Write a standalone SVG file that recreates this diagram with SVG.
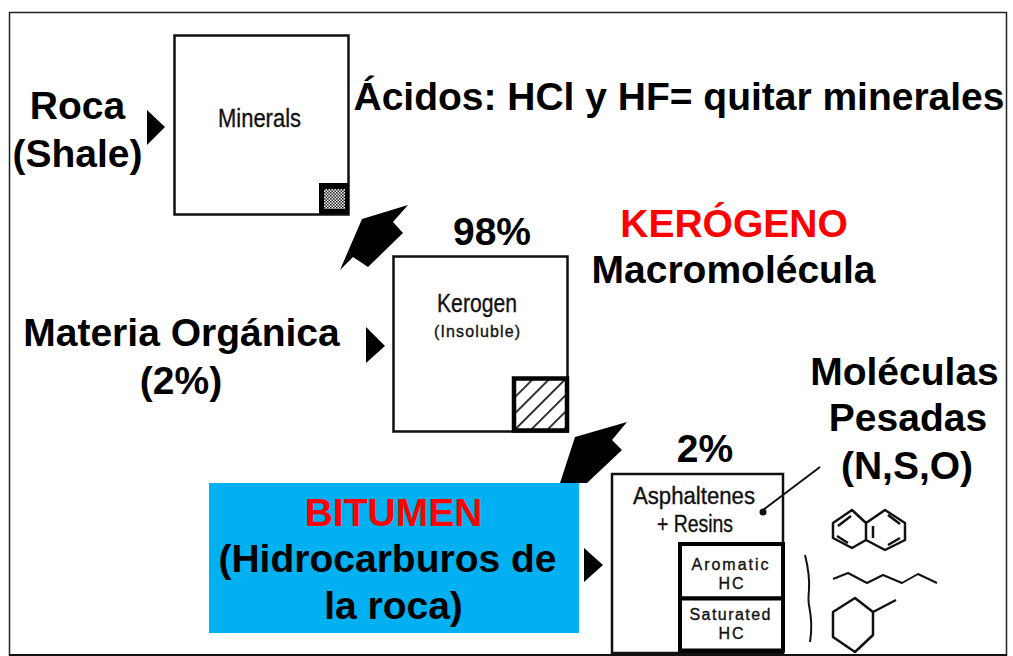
<svg xmlns="http://www.w3.org/2000/svg" width="1013" height="656" viewBox="0 0 1013 656">
<defs>
<style>
.b{font-family:"Liberation Sans",Arial,sans-serif;font-weight:700;font-size:39px;fill:#000;text-anchor:middle}
.r{fill:#f00}
.s{font-family:"Liberation Sans",Arial,sans-serif;fill:#111;stroke:#111;stroke-width:.35;text-anchor:middle}
.box{fill:#fff;stroke:#111;stroke-width:2.500}
.thick{fill:#fff;stroke:#000;stroke-width:4}
.line{fill:none;stroke:#111;stroke-width:2;stroke-linejoin:round}
</style>
<pattern id="dots" width="3" height="3" patternUnits="userSpaceOnUse"><rect width="3" height="3" fill="#fff"/><rect width="1.600" height="1.600" fill="#222"/><rect x="1.500" y="1.500" width="1.500" height="1.500" fill="#222"/></pattern>
<pattern id="hatch" width="11.500" height="11.500" patternUnits="userSpaceOnUse" patternTransform="rotate(45)"><rect width="11.500" height="11.500" fill="#fff"/><rect x="0" width="1.800" height="11.500" fill="#222"/></pattern>
</defs>
<rect width="1013" height="656" fill="#fff"/>
<path id="frame" d="M9.500 656V12.500H1006.500V656" fill="none" stroke="#222" stroke-width="1.500"/>
<path d="M9 655H1007" stroke="#111" stroke-width="2"/>
<g id="connectors">
<polygon points="147,110 165,127 147,145"/>
<polygon points="366,327 385,346 366,363"/>
<polygon points="584,548 603,565 584,582"/>
<polygon points="408,205 393,222 403,233 368,267 353,257 340,270 362,219"/>
<polygon points="627,422 612,440 622,450 587,483 560,483 575,437"/>
</g>
<g id="minerals">
<rect class="box" x="174.500" y="35.500" width="174" height="179"/>
<rect x="319" y="183" width="30" height="31" fill="#000"/><rect x="324" y="189" width="21" height="20" fill="url(#dots)"/>
<text class="s" x="259.500" y="127" font-size="26" textLength="83" lengthAdjust="spacingAndGlyphs">Minerals</text>
</g>
<g id="kerogen">
<rect class="box" x="393.500" y="256.500" width="174" height="175"/>
<rect x="514" y="378.500" width="53" height="52" fill="url(#hatch)" stroke="#000" stroke-width="4.500"/>
<text class="s" x="477" y="312" font-size="26" textLength="80" lengthAdjust="spacingAndGlyphs">Kerogen</text>
<text class="s" x="477" y="337" font-size="16" textLength="86" lengthAdjust="spacing">(Insoluble)</text>
</g>
<g id="asphaltenes">
<rect class="box" x="612" y="474" width="171" height="179"/>
<text class="s" x="694" y="504" font-size="23" textLength="122" lengthAdjust="spacingAndGlyphs">Asphaltenes</text>
<text class="s" x="695" y="532" font-size="23" textLength="76" lengthAdjust="spacingAndGlyphs">+ Resins</text>
<path class="line" d="M820 467L763 510"/><circle cx="763" cy="512" r="3.500" fill="#111"/>
</g>
<g id="aromatic">
<rect class="thick" x="680" y="544" width="103" height="54.500"/>
<text class="s" x="730" y="570" font-size="16" textLength="77">Aromatic</text>
<text class="s" x="731" y="589" font-size="16" textLength="25">HC</text>
</g>
<g id="saturated">
<rect class="thick" x="680" y="598.500" width="103" height="52"/>
<text class="s" x="730" y="620" font-size="16" textLength="81">Saturated</text>
<text class="s" x="731" y="639" font-size="16" textLength="25">HC</text>
</g>
<g id="molecules">
<path d="M805 555Q810 575 809 590Q808 600 809 605Q813 625 810 642" fill="none" stroke="#111" stroke-width="2"/>
<path class="line" style="stroke-width:2.500" d="M833 523L852 510L866 523V540L852 548L833 538ZM866 523L885 510L905 523V540L885 550L866 540ZM873 526V538M838 526L851 516M837 536L848 543M888 515L900 524M888 545L900 538"/>
<path class="line" d="M833 579L848 573L867 583L883 575L902 583L918 574L937 583"/>
<path class="line" style="stroke-width:2.500" d="M833 612L855 598L873 612V635L855 652L833 637ZM873 612L896 600"/>
</g>
<g id="labels">
<text class="b" x="77.500" y="119">Roca</text>
<text class="b" x="77.500" y="167">(Shale)</text>
<text class="b" x="679" y="110" textLength="651" lengthAdjust="spacingAndGlyphs">Ácidos: HCl y HF= quitar minerales</text>
<text class="b" x="492" y="245">98%</text>
<text class="b r" x="734" y="237">KERÓGENO</text>
<text class="b" x="733.500" y="283">Macromolécula</text>
<text class="b" x="181.500" y="346">Materia Orgánica</text>
<text class="b" x="181" y="394">(2%)</text>
<text class="b" x="705" y="462">2%</text>
<text class="b" x="904.500" y="385">Moléculas</text>
<text class="b" x="908" y="431">Pesadas</text>
<text class="b" x="907" y="479">(N,S,O)</text>
</g>
<g id="bitumen">
<rect x="209" y="483" width="370" height="150" fill="#00b0f0"/>
<text class="b r" x="393.500" y="526">BITUMEN</text>
<text class="b" x="387.500" y="572">(Hidrocarburos de</text>
<text class="b" x="393.500" y="619">la roca)</text>
</g>
</svg>
